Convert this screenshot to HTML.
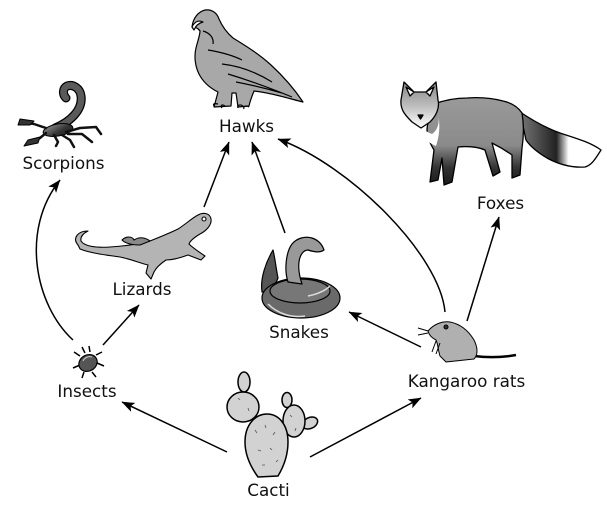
<!DOCTYPE html>
<html><head><meta charset="utf-8"><style>
html,body{margin:0;padding:0;background:#fff}
svg{display:block}
text{font-family:"DejaVu Sans","Liberation Sans",sans-serif;font-size:16.8px;fill:#111;text-anchor:middle}
</style></head><body>
<svg width="607" height="509" viewBox="0 0 607 509" xmlns="http://www.w3.org/2000/svg">
<defs>
<marker id="ah" viewBox="0 0 13 10" markerUnits="userSpaceOnUse" markerWidth="13" markerHeight="10" refX="12.5" refY="5" orient="auto">
<path d="M0,0 L13,5 L0,10 L3,5 z" fill="#000"/>
</marker>
<linearGradient id="foxg" x1="0" y1="0" x2="0" y2="1">
<stop offset="0" stop-color="#9a9a9a"/><stop offset="0.55" stop-color="#8a8a8a"/><stop offset="0.8" stop-color="#333"/><stop offset="1" stop-color="#1a1a1a"/>
</linearGradient>
<linearGradient id="headg" x1="0" y1="0" x2="0" y2="1">
<stop offset="0" stop-color="#888"/><stop offset="0.5" stop-color="#bbb"/><stop offset="1" stop-color="#fff"/>
</linearGradient>
<linearGradient id="tailg" x1="0" y1="0" x2="1" y2="0">
<stop offset="0" stop-color="#777"/><stop offset="0.45" stop-color="#222"/><stop offset="0.6" stop-color="#fff"/><stop offset="1" stop-color="#fff"/>
</linearGradient>
<linearGradient id="scg" x1="0" y1="0" x2="1" y2="1">
<stop offset="0" stop-color="#999"/><stop offset="0.6" stop-color="#333"/><stop offset="1" stop-color="#222"/>
</linearGradient>
</defs>

<!-- arrows -->
<g stroke="#000" stroke-width="1.5" fill="none" marker-end="url(#ah)">
<line x1="227" y1="452" x2="122" y2="402"/>
<line x1="310" y1="457" x2="421" y2="398"/>
<line x1="103" y1="345" x2="139" y2="305"/>
<path d="M73,340 C35,305 20,230 60,180"/>
<line x1="204" y1="207" x2="229" y2="142"/>
<line x1="285" y1="233" x2="252" y2="142"/>
<path d="M445,312 C440,255 350,165 278,139"/>
<line x1="467" y1="321" x2="499" y2="217"/>
<line x1="421" y1="347" x2="349" y2="312"/>
</g>

<!-- Hawk -->
<g stroke="#000" stroke-width="1.2" stroke-linejoin="round">
<path fill="#a8a8a8" d="M192,27 C193,18 198,12 205,10 C212,9 217,13 219,19 C222,26 226,32 233,38 C246,46 259,54 271,65 C284,77 295,90 303,102 C295,100 288,98 280,96 C272,94 263,92 254,91 C252,96 250,101 249,106 L238,107 L236,93 L232,93 L231,106 L214,107 L218,92 C210,88 203,82 199,74 C195,66 194,56 196,48 C198,40 200,35 200,31 C198,28 195,27 192,27 Z"/>
<path fill="none" d="M203,31 C210,33 214,38 213,44 M208,50 C220,52 232,55 242,60 M222,64 C240,66 256,72 272,82 M228,74 C248,80 270,88 292,97 M236,82 C252,85 268,89 282,93 M215,107 C212,104 214,103 218,104 M222,108 C220,105 222,104 225,106 M238,108 C237,105 240,104 243,106 M244,109 C243,106 246,105 249,107"/>
<path fill="#fff" d="M192,27 C195,21 199,20 203,22 C199,23 196,25 194,30 Z"/>
</g>

<!-- Scorpion -->
<g stroke="#000" stroke-width="1" stroke-linejoin="round">
<path d="M55,128 C70,122 83,110 81,96 C80,88 73,84 67,86 C63,88 62,94 66,98" fill="none" stroke="#000" stroke-width="9" stroke-linecap="round"/>
<path d="M55,128 C70,122 83,110 81,96 C80,88 73,84 67,86 C63,88 62,94 66,98" fill="none" stroke="#5a5a5a" stroke-width="6.5" stroke-linecap="round"/>
<ellipse cx="58" cy="130" rx="15" ry="6" fill="url(#scg)" transform="rotate(-10 58 130)"/>
<path fill="none" stroke="#111" stroke-width="2.5" stroke-linecap="round" d="M46,128 L34,124 L22,122 M46,133 L40,138 L30,143 M66,132 L80,128 L96,127 L101,134 M68,134 L82,134 L92,142 M62,135 L70,140 L74,147 M54,135 L58,142 L56,146"/>
<path fill="#333" d="M20,119 L34,121 L30,125 L18,125 Z M28,140 L40,137 L38,143 L24,146 Z"/>
</g>

<!-- Lizard -->
<g stroke="#000" stroke-width="1.1" stroke-linejoin="round">
<path fill="#b4b4b4" d="M78,245 C72,238 78,231 88,231 C84,233 80,236 81,241 C84,246 95,248 110,247 C125,246 140,244 150,241 C160,237 170,233 178,229 C186,224 192,218 198,215 C203,212 210,213 211,219 C212,225 206,231 200,234 C195,237 190,241 189,244 C193,248 199,252 205,256 L201,260 L188,255 C180,258 172,260 166,260 C160,264 156,268 154,272 L151,279 L146,273 L148,265 C140,263 130,259 120,257 C105,255 90,253 80,249 Z"/>
<path fill="#8a8a8a" d="M122,240 C126,236 132,236 134,240 C140,236 146,238 150,241 L140,245 C132,245 126,244 122,240 Z"/>
<circle cx="204" cy="219" r="2" fill="#fff"/>
</g>

<!-- Snake -->
<g stroke="#000" stroke-width="1.2" stroke-linejoin="round">
<path fill="#555" d="M273,250 C266,262 260,278 262,292 C270,292 275,286 278,278 C276,268 275,258 273,250 Z"/>
<ellipse cx="301" cy="298" rx="39" ry="20" fill="#6a6a6a"/>
<ellipse cx="300" cy="291" rx="30" ry="12" fill="#777"/>
<path fill="#999" d="M288,282 C284,270 286,252 292,244 C297,238 305,236 312,238 C318,240 322,244 324,250 C320,253 314,252 308,250 C304,250 300,254 299,262 C298,270 300,278 302,284 Z"/>
<path fill="none" stroke="#ddd" stroke-width="1.5" d="M268,304 C278,314 292,318 305,316 M308,296 C318,294 326,290 330,286"/>
</g>

<!-- Fox -->
<g stroke="#000" stroke-width="1.3" stroke-linejoin="round">
<path fill="url(#tailg)" d="M520,112 C532,120 546,128 560,133 C575,138 590,142 601,150 C596,158 592,165 585,167 C570,168 558,164 547,158 C537,152 530,146 526,140 Z"/>
<path fill="url(#foxg)" d="M434,104 C445,100 455,98 467,98 C480,97 492,98 503,101 C512,103 518,107 522,113 C524,125 524,135 522,148 L520,175 L512,178 L512,155 C505,150 498,146 492,143 L500,172 L493,176 L485,150 C478,147 468,146 458,147 L452,182 L444,185 L442,158 L438,180 L430,182 L434,150 C428,140 424,130 430,118 Z"/>
<path fill="#fff" stroke="none" d="M412,118 C418,126 426,132 432,134 C438,130 440,122 438,112 C440,124 440,134 436,146 C426,142 416,132 412,118 Z"/>
<path fill="url(#headg)" d="M404,82 L414,92 L426,92 L436,82 L438,100 C440,108 436,116 430,122 L421,128 L412,122 C406,116 400,110 401,100 Z"/>
<path fill="#fff" d="M406,87 L410,96 L414,92 Z M434,87 L430,96 L426,92 Z"/>
<path fill="#111" d="M418,115 L423,115 L420.5,119 Z"/>
</g>

<!-- Kangaroo rat -->
<g stroke="#000" stroke-width="1" stroke-linejoin="round">
<path fill="none" stroke-width="2.5" d="M474,356 C490,358 505,357 516,355"/>
<path fill="#b0b0b0" d="M428,331 C434,324 442,321 450,322 C460,324 468,330 474,340 C478,348 478,355 474,359 L446,362 L440,356 C438,350 438,344 436,340 C432,338 429,335 428,331 Z"/>
<path fill="none" d="M428,331 L418,328 M428,333 L418,335 M436,341 L432,352 M440,343 L436,354"/>
<circle cx="446" cy="327" r="2" fill="#333"/>
</g>

<!-- Insect -->
<g stroke="#000" stroke-width="1.2">
<path fill="none" stroke-width="1.5" d="M80,356 L74,352 M80,365 L73,368 M84,372 L82,378 M96,355 L102,352 M97,363 L104,366 M90,352 L89,346 M85,353 L82,347 M92,372 L96,377"/>
<ellipse cx="88" cy="363" rx="9.5" ry="8" fill="#555" transform="rotate(-30 88 363)"/>
<path fill="none" stroke="#ccc" stroke-width="1" d="M83,361 C85,357 89,356 92,357"/>
</g>

<!-- Cactus -->
<g stroke="#000" stroke-width="1.5" fill="#d2d2d2">
<ellipse cx="244" cy="382" rx="6" ry="10"/>
<ellipse cx="287" cy="400" rx="5" ry="7.5"/>
<ellipse cx="310" cy="423" rx="8" ry="5.5" transform="rotate(-25 310 423)"/>
<ellipse cx="243" cy="407" rx="16" ry="15"/>
<ellipse cx="294" cy="421" rx="11" ry="16"/>
<path d="M258,477 C250,466 245,455 245,442 C245,425 255,414 267,414 C279,414 288,425 288,442 C288,455 284,466 278,476 Z"/>
</g>
<g stroke="#555" stroke-width="0.8">
<path d="M255,430 l2,3 M265,425 l1,3 M275,432 l-2,3 M258,450 l3,1 M270,448 l2,2 M262,465 l3,0 M278,460 l-2,2 M238,398 l2,2 M248,408 l1,3 M290,415 l2,2 M296,428 l-1,3"/>
</g>

<!-- labels -->
<text x="246.5" y="132">Hawks</text>
<text x="63.5" y="169">Scorpions</text>
<text x="500.5" y="209">Foxes</text>
<text x="142" y="295">Lizards</text>
<text x="299" y="338">Snakes</text>
<text x="87" y="397">Insects</text>
<text x="466.5" y="387">Kangaroo rats</text>
<text x="268.5" y="496">Cacti</text>
</svg>
</body></html>
